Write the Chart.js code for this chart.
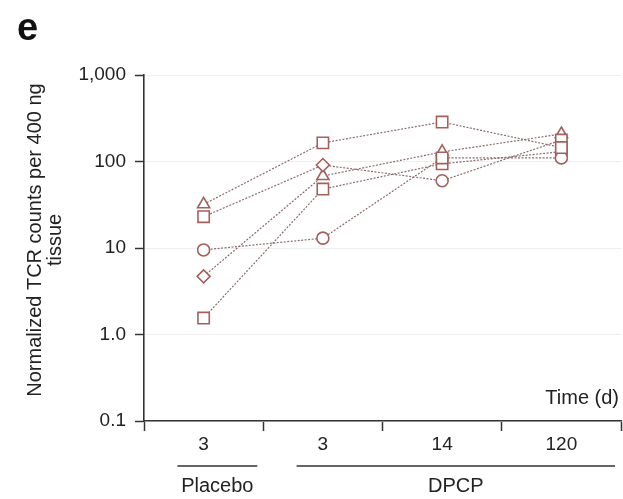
<!DOCTYPE html>
<html>
<head>
<meta charset="utf-8">
<script src="https://cdn.jsdelivr.net/npm/chart.js@4.4.0/dist/chart.umd.min.js"></script>
<style>
  html, body { margin: 0; padding: 0; background: #ffffff; }
  #wrap { width: 623px; height: 499px; position: relative; }
</style>
</head>
<body>
<div id="wrap"><canvas id="c" width="623" height="499"></canvas></div>
<script>
// ---- data ----
const categories = ['3', '3', '14', '120'];
const groupNames = ['Placebo', 'DPCP'];
const groupFrom = [0, 1];
const groupTo = [0, 3];
const yTickValues = [0.1, 1, 10, 100, 1000];
const yTickLabels = ['0.1', '1.0', '10', '100', '1,000'];
const yTitleLines = ['Normalized TCR counts per 400 ng', 'tissue'];
const xTitle = 'Time (d)';
const panelLetter = 'e';

const subject1 = [32, 164, 286, 145];
const subject2 = [23, 91, 60, 177];
const subject3 = [9.5, 13, 110, 110];
const subject4 = [4.7, 68, 129, 208];
const subject5 = [1.55, 48, 94, 130];

const shapes1 = ['triangle', 'rect', 'rect', 'rect'];
const shapes2 = ['rect', 'rectRot', 'circle', 'rect'];
const shapes3 = ['circle', 'circle', 'rect', 'circle'];
const shapes4 = ['rectRot', 'triangle', 'triangle', 'triangle'];
const shapes5 = ['rect', 'rect', 'rect', 'rect'];

const markerColor = '#a2605e';
const lineColor = '#8a6e6e';
const FONT = '"Liberation Sans", Arial, Helvetica, sans-serif';

function radiusFor(shape) {
  if (shape === 'rect') return 8;
  if (shape === 'rectRot') return 6.5;
  if (shape === 'triangle') return 7;
  return 6;
}

function mkDataset(values, shapes) {
  return {
    data: values,
    pointStyle: shapes,
    pointRadius: shapes.map(radiusFor),
    pointHoverRadius: shapes.map(radiusFor),
    pointBackgroundColor: '#ffffff',
    pointBorderColor: markerColor,
    pointBorderWidth: 1.6,
    borderColor: lineColor,
    borderWidth: 1.2,
    borderDash: [2, 1.5],
    tension: 0,
    fill: false
  };
}

const annotations = {
  id: 'annotations',
  afterDraw(chart) {
    const ctx = chart.ctx;
    const x = chart.scales.x;
    const area = chart.chartArea;
    const catW = (area.right - area.left) / categories.length;
    ctx.save();
    // panel letter
    ctx.fillStyle = '#111';
    ctx.font = 'bold 38px ' + FONT;
    ctx.textAlign = 'left';
    ctx.textBaseline = 'alphabetic';
    ctx.fillText(panelLetter, 17, 40);
    // y title (two lines, rotated)
    ctx.fillStyle = '#222';
    ctx.font = '20px ' + FONT;
    ctx.textAlign = 'center';
    ctx.textBaseline = 'middle';
    const cy = (area.top + area.bottom) / 2 - 8;
    for (let i = 0; i < yTitleLines.length; i++) {
      ctx.save();
      ctx.translate(35 + i * 20, cy);
      ctx.rotate(-Math.PI / 2);
      ctx.fillText(yTitleLines[i], 0, 0);
      ctx.restore();
    }
    // Time (d)
    ctx.textAlign = 'right';
    ctx.fillText(xTitle, area.right - 2, area.bottom - 23);
    // group lines + labels
    ctx.strokeStyle = '#333';
    ctx.lineWidth = 1.5;
    ctx.textAlign = 'center';
    for (let g = 0; g < groupNames.length; g++) {
      const left = x.getPixelForValue(groupFrom[g]) - catW / 2 + catW * 0.28;
      const right = x.getPixelForValue(groupTo[g]) + catW / 2 - catW * 0.05;
      const y = area.bottom + 45;
      ctx.beginPath();
      ctx.moveTo(left, y);
      ctx.lineTo(right, y);
      ctx.stroke();
      ctx.fillText(groupNames[g], (left + right) / 2, y + 20);
    }
    ctx.restore();
  }
};

new Chart(document.getElementById('c'), {
  type: 'line',
  data: {
    labels: categories,
    datasets: [
      mkDataset(subject1, shapes1),
      mkDataset(subject2, shapes2),
      mkDataset(subject3, shapes3),
      mkDataset(subject4, shapes4),
      mkDataset(subject5, shapes5)
    ]
  },
  options: {
    responsive: false,
    animation: false,
    devicePixelRatio: 1,
    layout: { autoPadding: false, padding: { top: 75, right: 2, bottom: 0, left: 0 } },
    plugins: { legend: { display: false }, tooltip: { enabled: false } },
    scales: {
      x: {
        type: 'category',
        offset: true,
        afterFit(s) { s.height = 78; s.paddingLeft = 0; s.paddingRight = 0; },
        grid: {
          offset: true,
          drawOnChartArea: false,
          drawTicks: true,
          tickLength: 10,
          tickColor: '#333',
          tickWidth: 1.5
        },
        border: { color: '#333', width: 1.6 },
        ticks: {
          autoSkip: false,
          maxRotation: 0,
          padding: 2,
          color: '#222',
          font: { family: FONT, size: 19 }
        }
      },
      y: {
        type: 'logarithmic',
        min: 0.1,
        max: 1000,
        afterFit(s) { s.width = 144; s.paddingTop = 0; s.paddingBottom = 0; },
        afterBuildTicks(s) { s.ticks = yTickValues.map(v => ({ value: v })); },
        grid: {
          color: '#eeeeee',
          lineWidth: 1,
          drawTicks: true,
          tickLength: 9,
          tickColor: '#333',
          tickWidth: 1.5
        },
        border: { color: '#333', width: 1.6 },
        ticks: {
          padding: 9,
          color: '#222',
          font: { family: FONT, size: 19 },
          callback(v) {
            const i = yTickValues.indexOf(v);
            return i >= 0 ? yTickLabels[i] : '';
          }
        }
      }
    }
  },
  plugins: [annotations]
});
</script>
</body>
</html>
